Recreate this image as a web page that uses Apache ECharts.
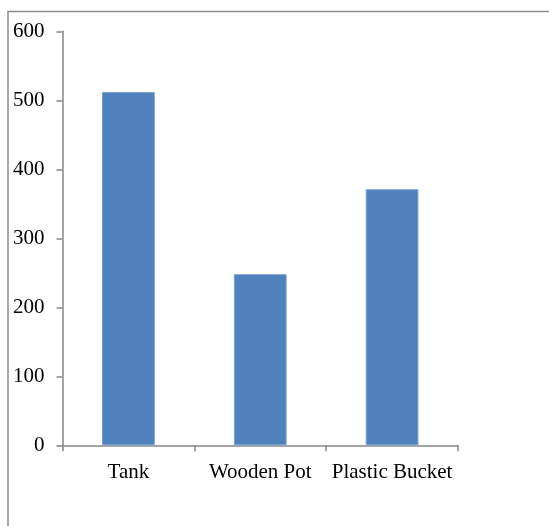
<!DOCTYPE html>
<html>
<head>
<meta charset="utf-8">
<style>
  html, body { margin: 0; padding: 0; background: #ffffff; }
  #chart { width: 549px; height: 526px; }
</style>
<script src="https://cdn.jsdelivr.net/npm/echarts@6/dist/echarts.min.js"></script>
</head>
<body>
<div id="chart"></div>
<script>
// Containers and their measured amounts
const categories = ['Tank', 'Wooden Pot', 'Plastic Bucket'];
const amounts = [512, 248, 371];
const yTicks = [0, 100, 200, 300, 400, 500, 600];

const chart = echarts.init(document.getElementById('chart'), null, { renderer: 'canvas' });

const axisGray = '#868686';
const labelFont = {
  fontFamily: '"Liberation Serif", "Times New Roman", serif',
  fontSize: 21,
  color: '#000000'
};

chart.setOption({
  animation: false,
  backgroundColor: '#ffffff',
  graphic: [{
    type: 'rect',
    shape: { x: 8, y: 11.5, width: 700, height: 700 },
    style: { fill: 'none', stroke: '#8c8c8c', lineWidth: 1.5 },
    silent: true
  }],
  grid: { left: 62.5, right: 91, top: 31.3, bottom: 80.7, containLabel: false },
  xAxis: {
    type: 'category',
    data: categories,
    axisLine: { show: true, lineStyle: { color: axisGray, width: 1.5 } },
    axisTick: { show: true, alignWithLabel: false, length: 6, lineStyle: { color: axisGray, width: 1.5 } },
    axisLabel: Object.assign({ margin: 17, interval: 0 }, labelFont),
    splitLine: { show: false }
  },
  yAxis: {
    type: 'value',
    min: yTicks[0],
    max: yTicks[yTicks.length - 1],
    interval: yTicks[1] - yTicks[0],
    axisLine: { show: true, lineStyle: { color: axisGray, width: 1.5 } },
    axisTick: { show: true, length: 6, lineStyle: { color: axisGray, width: 1.5 } },
    axisLabel: Object.assign({ margin: 18 }, labelFont),
    splitLine: { show: false }
  },
  series: [{
    type: 'bar',
    data: amounts,
    barWidth: '40%',
    itemStyle: { color: '#4f81bd', borderColor: '#7a9fd0', borderWidth: 1 }
  }]
});
</script>
</body>
</html>
